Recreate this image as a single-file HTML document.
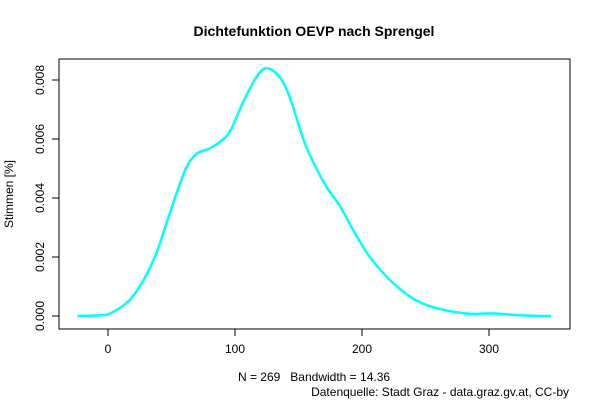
<!DOCTYPE html>
<html><head><meta charset="utf-8"><style>
body{margin:0;background:#fff;}
svg{display:block;font-family:"Liberation Sans",sans-serif;}
</style></head><body>
<svg id="chart" width="600" height="400">
<text x="314" y="36" text-anchor="middle" font-size="14" font-weight="bold">Dichtefunktion OEVP nach Sprengel</text>
<rect x="59" y="59" width="511" height="270" fill="none" stroke="#000"/>
<g id="xaxis"></g>
<g id="yaxis"></g>
<path id="curve" fill="none" stroke="#00ffff" stroke-width="2.5"/>
<text x="314" y="381" text-anchor="middle" font-size="12">N = 269&#160;&#160;&#160;Bandwidth = 14.36</text>
<text x="569" y="396" text-anchor="end" font-size="12">Datenquelle: Stadt Graz - data.graz.gv.at, CC-by</text>
<text transform="translate(13,194) rotate(-90)" text-anchor="middle" font-size="12">Stimmen [%]</text>
</svg>
<script>
const xs=[-24,-8,2,17,28,38,46,54,62,70,80,88,96,106,117,125,135,143,154,162,172,183,193,206,222,238,251,261,277,288,303,319,335,349];
const ys=[0,0.00002,0.00009,0.00054,0.00122,0.00212,0.00314,0.00416,0.00506,0.00551,0.00568,0.0059,0.00625,0.00721,0.00811,0.0084,0.00811,0.00743,0.00597,0.00518,0.00438,0.0037,0.00292,0.00201,0.00122,0.00065,0.00037,0.00024,0.00011,0.00007,0.00009,0.00004,0.00001,0];
const xTicks=[0,100,200,300];
const yTicks=[0,0.002,0.004,0.006,0.008];
const yLabels=["0.000","0.002","0.004","0.006","0.008"];
const NS="http://www.w3.org/2000/svg";
const X=v=>108+v*1.27, Y=v=>316-v*29500;
function mk(t,a,p){const e=document.createElementNS(NS,t);for(const k in a)e.setAttribute(k,a[k]);p.appendChild(e);return e;}
const xa=document.getElementById('xaxis'), ya=document.getElementById('yaxis');
mk('line',{x1:X(0),x2:X(300),y1:329,y2:329,stroke:'#000'},xa);
xTicks.forEach(v=>{
 const l=mk('line',{x1:X(v),x2:X(v),y1:329,y2:336,stroke:'#000'},xa);
 
 
 const t=mk('text',{x:X(v),y:353,'text-anchor':'middle','font-size':12},xa);t.textContent=v;
 
 
});
mk('line',{x1:59,x2:59,y1:Y(0),y2:Y(0.008),stroke:'#000'},ya);
yTicks.forEach((v,i)=>{
 const l=mk('line',{x1:52,x2:59,y1:Y(v),y2:Y(v),stroke:'#000'},ya);
 
 
 const t=mk('text',{x:0,y:0,'text-anchor':'middle','font-size':12,transform:`translate(44,${Y(v)}) rotate(-90)`},ya);t.textContent=yLabels[i];
 
 
});
const P=xs.map((x,i)=>[X(x),Y(ys[i])]);
let d=`M${P[0][0]},${P[0][1]}`;
for(let i=0;i<P.length-1;i++){
 const p0=P[Math.max(0,i-1)],p1=P[i],p2=P[i+1],p3=P[Math.min(P.length-1,i+2)];
 const c1=[p1[0]+(p2[0]-p0[0])/6,p1[1]+(p2[1]-p0[1])/6],c2=[p2[0]-(p3[0]-p1[0])/6,p2[1]-(p3[1]-p1[1])/6];
 d+=` C${c1[0]},${c1[1]} ${c2[0]},${c2[1]} ${p2[0]},${p2[1]}`;
}
document.getElementById('curve').setAttribute('d',d);
</script>
</body></html>
